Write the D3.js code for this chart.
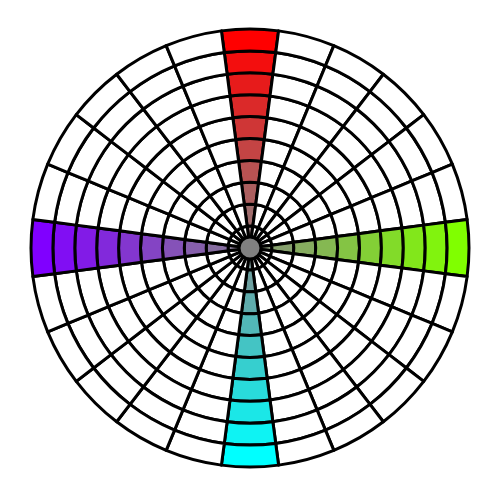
<!DOCTYPE html><html><head><script src="https://cdn.jsdelivr.net/npm/d3@7"></script><style>body{margin:0;background:#fff}</style></head><body><svg width="500" height="500"></svg><script>
const sectorCount = 24;
const ringCount = 10;
const highlighted = [0, 6, 12, 18];
const hues = ["#ff0000", "#80ff00", "#00ffff", "#8000ff"];
const svg = d3.select("svg");
const g = svg.append("g").attr("transform","translate(250,248)");
const R = 219, r0 = 11;
const rScale = d3.scaleLinear().domain([0, ringCount]).range([0, R]);
const aScale = d3.scaleLinear().domain([0, sectorCount]).range([-Math.PI/sectorCount, 2*Math.PI - Math.PI/sectorCount]);
const cells = [];
for (let s=0;s<sectorCount;s++) for (let k=0;k<ringCount;k++) cells.push({s,k});
const arc = d3.arc()
  .innerRadius(d => Math.max(r0, rScale(d.k)))
  .outerRadius(d => rScale(d.k+1))
  .startAngle(d => aScale(d.s)).endAngle(d => aScale(d.s+1));
g.selectAll("path.cell").data(cells).join("path").attr("class","cell").attr("d", arc)
  .attr("fill", d => {
    const i = highlighted.indexOf(d.s);
    if (i < 0) return "#fff";
    return d3.interpolateRgb("#888888", hues[i])((d.k+1)/ringCount);
  })
  .attr("stroke","#000").attr("stroke-width",3).attr("stroke-linejoin","round");
g.append("circle").attr("r", r0).attr("fill","#808080").attr("stroke","#000").attr("stroke-width",3);
</script></body></html>
